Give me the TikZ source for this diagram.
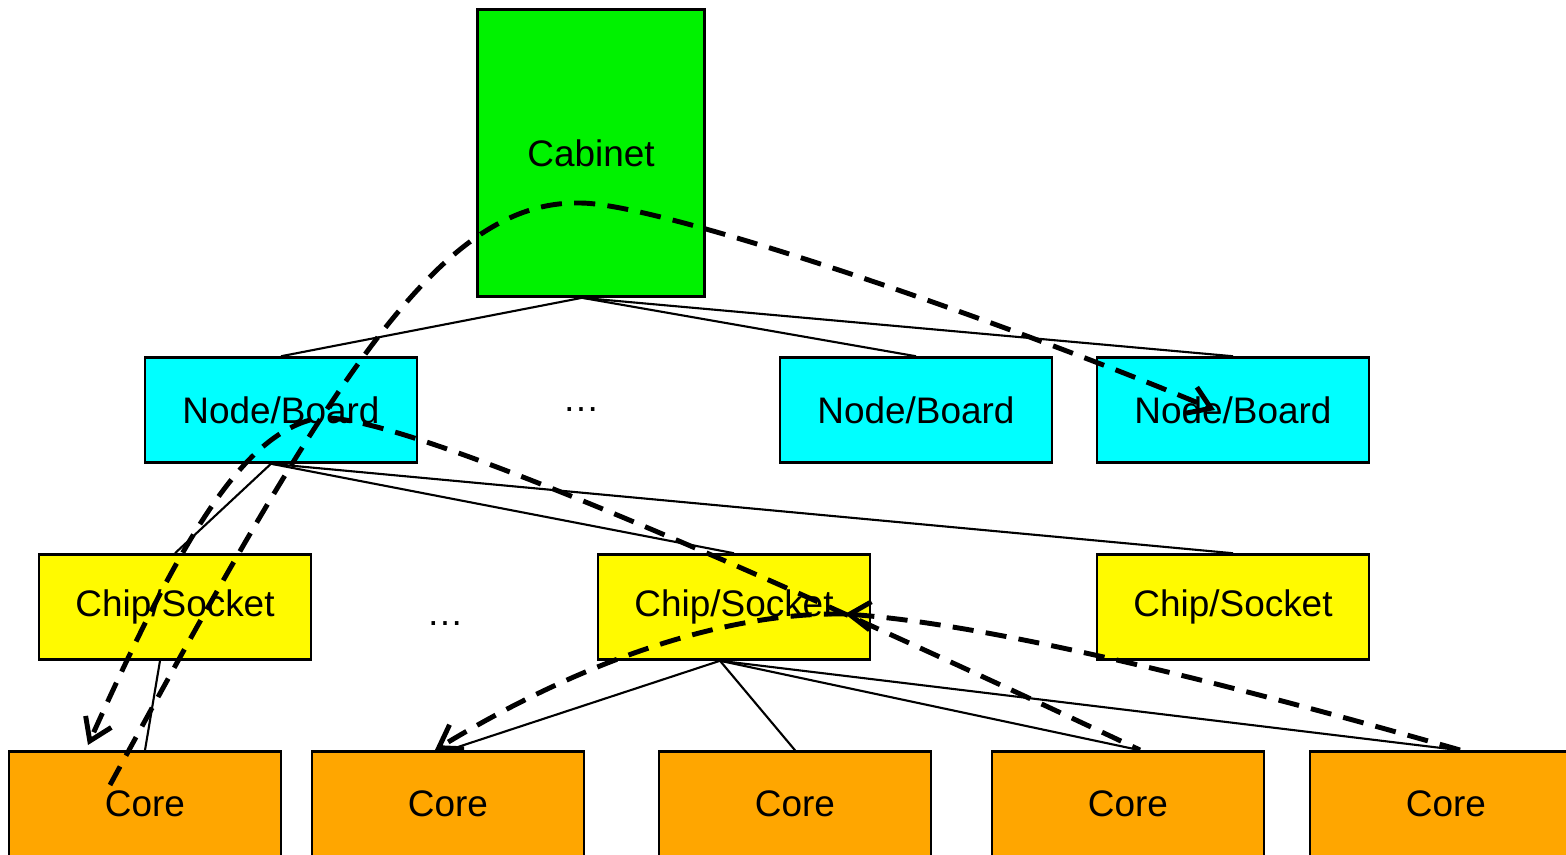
\documentclass[tikz,border=0pt]{standalone}
\usepackage{fontspec}
\setmainfont{Liberation Sans}
\usetikzlibrary{arrows.meta}
\definecolor{cabgreen}{RGB}{0,242,0}
\definecolor{boardcyan}{RGB}{0,255,255}
\definecolor{chipyellow}{RGB}{255,250,0}
\definecolor{coreorange}{RGB}{255,166,0}
\begin{document}
\begin{tikzpicture}[x=0.01cm, y=-0.01cm,
    box/.style={draw, line width=0.7pt, inner sep=0pt, minimum width=2.72cm, minimum height=1.05cm, font=\fontsize{10.5}{12}\selectfont},
    link/.style={line width=0.6pt},
    flow/.style={line width=1.4pt, dash pattern=on 6pt off 3.5pt, -{Straight Barb[length=6pt,width=8pt]}},
    flowline/.style={line width=1.4pt, dash pattern=on 6pt off 3.5pt}]
                \useasboundingbox (0,0) rectangle (1566,854);

                \node[box, fill=cabgreen, minimum width=2.27cm, minimum height=2.87cm] (cab) at (591,153) { Cabinet };

                \node[box, fill=boardcyan] (nb1) at (281,410) { Node/Board };
                \node[font=\fontsize{10.5}{12}\selectfont] (dots1) at (581,410) { … };
                \node[box, fill=boardcyan] (nb3) at (916,410) { Node/Board };
                \node[box, fill=boardcyan] (nb4) at (1233,410) { Node/Board };

                \node[box, fill=chipyellow] (cs1) at (175,607) { Chip/Socket };
                \node[font=\fontsize{10.5}{12}\selectfont] (dots2) at (445,624) { … };
                \node[box, fill=chipyellow] (cs2) at (734,607) { Chip/Socket };
                \node[box, fill=chipyellow] (cs3) at (1233,607) { Chip/Socket };

                \node[box, fill=coreorange] (core1) at (145,804) { Core };
                \node[box, fill=coreorange] (core2) at (448,804) { Core };
                \node[box, fill=coreorange] (core3) at (795,804) { Core };
                \node[box, fill=coreorange] (core4) at (1128,804) { Core };
                \node[box, fill=coreorange] (core5) at (1446,804) { Core };

                \draw[link] ([xshift=-0.09cm]cab.south) to (nb1.north);
                \draw[link] ([xshift=-0.09cm]cab.south) to (nb3.north);
                \draw[link] ([xshift=-0.09cm]cab.south) to (nb4.north);

                \draw[link] ([xshift=-0.1cm]nb1.south) to (cs1.north);
                \draw[link] ([xshift=-0.1cm]nb1.south) to (cs2.north);
                \draw[link] ([xshift=-0.1cm]nb1.south) to (cs3.north);

                \draw[link] ([xshift=-0.15cm]cs1.south) to (core1.north);
                \draw[link] ([xshift=-0.14cm]cs2.south) to (core2.north);
                \draw[link] ([xshift=-0.14cm]cs2.south) to (core3.north);
                \draw[link] ([xshift=-0.14cm]cs2.south) to ([xshift=0.12cm]core4.north);
                \draw[link] ([xshift=-0.14cm]cs2.south) to ([xshift=0.14cm]core5.north);

                % dashed paths
                \coordinate (a0) at (110,785);
                \coordinate (peak) at (580,203);
                \coordinate (nb4in) at (1215,410);
                \coordinate (nb1mid) at (310,420);
                \coordinate (nb1right) at (330,418);
                \coordinate (core1in) at (88,745);
                \coordinate (core2in) at (435,750);
                \coordinate (core4in) at (1140,750);
                \coordinate (core5in) at (1460,750);
                \coordinate (cs2in) at (845,614);

                \draw[flow] (a0) .. controls (330,380) and (440,200) .. (peak) .. controls (660,203) and (1000,320) .. (nb4in);
                \draw[flow] (nb1mid) .. controls (240,440) and (180,540) .. (core1in);
                \draw[flowline] (nb1right) .. controls (430,425) and (800,590) .. (core4in);
                \draw[flow] (core5in) .. controls (1250,690) and (1000,625) .. (cs2in);
                \draw[flow] (cs2in) .. controls (740,612) and (600,650) .. (core2in);
            \end{tikzpicture}
\end{document}
